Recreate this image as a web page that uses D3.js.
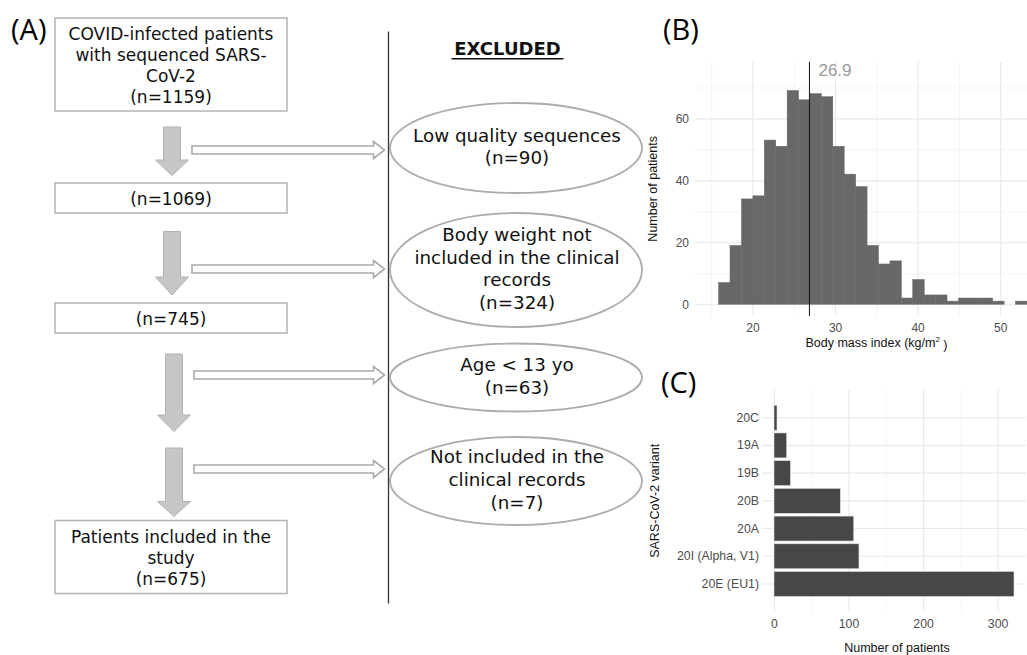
<!DOCTYPE html>
<html>
<head>
<meta charset="utf-8">
<script src="https://cdn.jsdelivr.net/npm/d3@7"></script>
<style>
  body { margin: 0; background: #fff; }
  svg { display: block; }
</style>
</head>
<body>
<div id="chart"></div>
<script>
// ---- data ----
var flowBoxes = [
  ["COVID-infected patients", "with sequenced SARS-", "CoV-2", "(n=1159)"],
  ["(n=1069)"],
  ["(n=745)"],
  ["Patients included in the", "study", "(n=675)"]
];
var excludedTitle = "EXCLUDED";
var excludedSteps = [
  ["Low quality sequences", "(n=90)"],
  ["Body weight not", "included in the clinical", "records", "(n=324)"],
  ["Age < 13 yo", "(n=63)"],
  ["Not included in the", "clinical records", "(n=7)"]
];

// histogram of BMI (left edge of each bin, and patient count)
var bmiBreaks = [15.90, 17.28, 18.67, 20.05, 21.43, 22.82, 24.20, 25.58, 26.96, 28.35,
                 29.73, 31.11, 32.50, 33.88, 35.26, 36.65, 38.03, 39.41, 40.80, 42.18,
                 43.56, 44.94, 46.33, 47.71, 49.09, 50.48, 51.86, 53.24];
var bmiCounts = [7, 19, 34, 35, 53, 51, 69, 66, 68, 67,
                 51, 42, 38, 19, 13, 14, 2, 8, 3, 3,
                 1, 2, 2, 2, 1, 0, 1];
var bmiMedian = 26.9;
var bmiTicks = [20, 30, 40, 50];
var countTicks = [0, 20, 40, 60];

// variants bar chart
var variants = ["20C", "19A", "19B", "20B", "20A", "20I (Alpha, V1)", "20E (EU1)"];
var variantCounts = [4, 17, 22, 89, 107, 114, 322];
var variantTicks = [0, 100, 200, 300];

var width = 1027, height = 655;
var flowFont = "'DejaVu Sans', Verdana, sans-serif";
var ggFont = "'Liberation Sans', Arial, sans-serif";
var panelFont = "'Open Sans', 'Liberation Sans', sans-serif";

var svg = d3.select("#chart").append("svg")
  .attr("width", width)
  .attr("height", height);

////////////////////////////////////////////////////////////////////////////////
/*                        (A) FLOWCHART                                       */
////////////////////////////////////////////////////////////////////////////////
var flow = svg.append("g");

var boxX0 = 55, boxX1 = 287;
var boxY = [[18, 111], [183, 213], [303, 333], [520.5, 593.5]];
var lineGap = 20.7;

flowBoxes.forEach(function (lines, i) {
  var y0 = boxY[i][0], y1 = boxY[i][1];
  flow.append("rect")
    .attr("x", boxX0).attr("y", y0)
    .attr("width", boxX1 - boxX0).attr("height", y1 - y0)
    .attr("fill", "#fff").attr("stroke", "#b4b4b4").attr("stroke-width", 1.5);
  var mid = (y0 + y1) / 2 + 1;
  var first = mid - (lines.length - 1) * lineGap / 2;
  lines.forEach(function (t, j) {
    flow.append("text")
      .attr("x", (boxX0 + boxX1) / 2)
      .attr("y", first + j * lineGap)
      .attr("text-anchor", "middle")
      .attr("dominant-baseline", "central")
      .style("font-family", flowFont)
      .style("font-size", "17px")
      .attr("fill", "#111")
      .text(t);
  });
});

// thick grey arrows going down
var downArrows = [
  { x: 172, top: 127, head: 160, tip: 175.5 },
  { x: 172, top: 231.5, head: 277, tip: 295 },
  { x: 174, top: 354, head: 415, tip: 431.5 },
  { x: 174, top: 448, head: 501.5, tip: 516.5 }
];
downArrows.forEach(function (a) {
  var sw = 8.5, hw = 16.5;
  var pts = [[a.x - sw, a.top], [a.x + sw, a.top], [a.x + sw, a.head], [a.x + hw, a.head],
             [a.x, a.tip], [a.x - hw, a.head], [a.x - sw, a.head]];
  flow.append("polygon")
    .attr("points", pts.map(function (p) { return p.join(","); }).join(" "))
    .attr("fill", "#c6c6c6").attr("stroke", "#b2b2b2").attr("stroke-width", 1);
});

// hollow arrows to the excluded side
var sideArrowY = [150, 269, 375, 469];
sideArrowY.forEach(function (y, i) {
  var x0 = i < 2 ? 192 : 194, xh = 373.5, x1 = 384.5, sh = 4, hh = 8.5;
  var pts = [[x0, y - sh], [xh, y - sh], [xh, y - hh], [x1, y], [xh, y + hh], [xh, y + sh], [x0, y + sh]];
  flow.append("polygon")
    .attr("points", pts.map(function (p) { return p.join(","); }).join(" "))
    .attr("fill", "#fff").attr("stroke", "#ababab").attr("stroke-width", 1.6);
});

// divider
flow.append("line")
  .attr("x1", 388.5).attr("x2", 388.5)
  .attr("y1", 31.5).attr("y2", 603.5)
  .attr("stroke", "#333").attr("stroke-width", 1.3);

flow.append("text")
  .attr("x", 507.5).attr("y", 55)
  .attr("text-anchor", "middle")
  .style("font-family", flowFont)
  .style("font-size", "18px")
  .style("font-weight", "bold")
  .attr("fill", "#111")
  .text(excludedTitle);
flow.append("line")
  .attr("x1", 451.5).attr("x2", 563.5)
  .attr("y1", 58.7).attr("y2", 58.7)
  .attr("stroke", "#111").attr("stroke-width", 1.5);

var ellCx = 516, ellRx = 126;
var ellCy = [148, 270, 377.5, 481];
var ellRy = [45, 57, 34, 44];
var ellGap = 22.8;
excludedSteps.forEach(function (lines, i) {
  flow.append("ellipse")
    .attr("cx", ellCx).attr("cy", ellCy[i])
    .attr("rx", ellRx).attr("ry", ellRy[i])
    .attr("fill", "#fff").attr("stroke", "#acacac").attr("stroke-width", 1.8);
  var first = ellCy[i] - 1.5 - (lines.length - 1) * ellGap / 2;
  lines.forEach(function (t, j) {
    flow.append("text")
      .attr("x", ellCx + 1)
      .attr("y", first + j * ellGap)
      .attr("text-anchor", "middle")
      .attr("dominant-baseline", "central")
      .style("font-family", flowFont)
      .style("font-size", "18.3px")
      .attr("fill", "#111")
      .text(t);
  });
});

// panel letters
function panelLabel(txt, x, y) {
  svg.append("text")
    .attr("x", x).attr("y", y)
    .style("font-family", panelFont)
    .style("font-size", "29px")
    .attr("fill", "#000")
    .text(txt);
}
panelLabel("(A)", 11, 40);
panelLabel("(B)", 663, 40);
panelLabel("(C)", 661, 393);

////////////////////////////////////////////////////////////////////////////////
/*                        (B) BMI HISTOGRAM                                   */
////////////////////////////////////////////////////////////////////////////////
var histLeft = 695, histRight = 1058, histTop = 61.7, histBottom = 316;
var hx = d3.scaleLinear().domain([13.04, 57.0]).range([histLeft, histRight]);
var hy = d3.scaleLinear().domain([-3.8, 78.3]).range([histBottom, histTop]);
var hist = svg.append("g");

// grid (minor + major)
var minorX = bmiTicks.map(function (t) { return t - 5; }).concat([55]);
var minorY = countTicks.map(function (t) { return t + 10; });
hist.append("g")
  .attr("transform", "translate(0," + histBottom + ")")
  .call(d3.axisBottom(hx).tickValues(minorX).tickSize(-(histBottom - histTop)).tickFormat(""))
  .call(function (g) { g.select(".domain").remove(); g.selectAll("line").attr("stroke", "#f1f1f1").attr("stroke-width", 0.8); });
hist.append("g")
  .attr("transform", "translate(" + histLeft + ",0)")
  .call(d3.axisLeft(hy).tickValues(minorY).tickSize(-(histRight - histLeft)).tickFormat(""))
  .call(function (g) { g.select(".domain").remove(); g.selectAll("line").attr("stroke", "#f1f1f1").attr("stroke-width", 0.8); });

var hxAxis = hist.append("g")
  .attr("transform", "translate(0," + histBottom + ")")
  .call(d3.axisBottom(hx).tickValues(bmiTicks).tickSize(-(histBottom - histTop)).tickPadding(6));
var hyAxis = hist.append("g")
  .attr("transform", "translate(" + histLeft + ",0)")
  .call(d3.axisLeft(hy).tickValues(countTicks).tickSize(-(histRight - histLeft)).tickPadding(6));
[hxAxis, hyAxis].forEach(function (g) {
  g.select(".domain").remove();
  g.selectAll("line").attr("stroke", "#e8e8e8").attr("stroke-width", 1.1);
  g.selectAll("text").attr("fill", "#4d4d4d").style("font-family", ggFont).style("font-size", "12px");
});
hxAxis.selectAll("text").attr("dy", "0.85em");

hist.selectAll("rect.bin")
  .data(bmiCounts)
  .enter()
  .append("rect")
  .attr("class", "bin")
  .attr("x", function (d, i) { return hx(bmiBreaks[i]); })
  .attr("width", function (d, i) { return hx(bmiBreaks[i + 1]) - hx(bmiBreaks[i]); })
  .attr("y", function (d) { return hy(d); })
  .attr("height", function (d) { return hy(0) - hy(d); })
  .attr("fill", "#686868")
  .attr("stroke", "#686868").attr("stroke-width", 0.5);

hist.append("line")
  .attr("x1", hx(bmiMedian)).attr("x2", hx(bmiMedian))
  .attr("y1", histTop).attr("y2", histBottom)
  .attr("stroke", "#111").attr("stroke-width", 1);
hist.append("text")
  .attr("x", hx(bmiMedian) + 9).attr("y", hy(75.5))
  .attr("dominant-baseline", "central")
  .style("font-family", ggFont).style("font-size", "17px")
  .attr("fill", "#9a9a9a")
  .text(bmiMedian.toFixed(1));

hist.append("text")
  .attr("transform", "translate(653," + ((histTop + histBottom) / 2) + ") rotate(-90)")
  .attr("text-anchor", "middle").attr("dominant-baseline", "central")
  .style("font-family", ggFont).style("font-size", "12.5px")
  .attr("fill", "#111")
  .text("Number of patients");
var bmiTitle = hist.append("text")
  .attr("x", (histLeft + histRight) / 2).attr("y", 343)
  .attr("text-anchor", "middle").attr("dominant-baseline", "central")
  .style("font-family", ggFont).style("font-size", "12.5px")
  .attr("fill", "#111");
bmiTitle.append("tspan").text("Body mass index (kg/m");
bmiTitle.append("tspan").attr("dy", "-0.45em").style("font-size", "8px").text("2");
bmiTitle.append("tspan").attr("dy", "0.45em").text(" )");

////////////////////////////////////////////////////////////////////////////////
/*                        (C) VARIANT BARS                                    */
////////////////////////////////////////////////////////////////////////////////
var barLeft = 762, barRight = 1026, barTop = 390, barBottom = 611.7;
var bx = d3.scaleLinear().domain([-16.1, 338.1]).range([barLeft, barRight]);
var by = d3.scaleBand().domain(variants).range([barTop, barBottom]).paddingInner(0.1).paddingOuter(0.55);
var bars = svg.append("g");

bars.append("g")
  .attr("transform", "translate(0," + barBottom + ")")
  .call(d3.axisBottom(bx).tickValues(variantTicks.map(function (t) { return t + 50; }).slice(0, 3)).tickSize(-(barBottom - barTop)).tickFormat(""))
  .call(function (g) { g.select(".domain").remove(); g.selectAll("line").attr("stroke", "#f1f1f1").attr("stroke-width", 0.8); });

var bxAxis = bars.append("g")
  .attr("transform", "translate(0," + barBottom + ")")
  .call(d3.axisBottom(bx).tickValues(variantTicks).tickSize(-(barBottom - barTop)).tickPadding(6));
var byAxis = bars.append("g")
  .attr("transform", "translate(" + barLeft + ",0)")
  .call(d3.axisLeft(by).tickSize(-(barRight - barLeft)).tickPadding(3));
[bxAxis, byAxis].forEach(function (g) {
  g.select(".domain").remove();
  g.selectAll("line").attr("stroke", "#e8e8e8").attr("stroke-width", 1.1);
  g.selectAll("text").attr("fill", "#4d4d4d").style("font-family", ggFont).style("font-size", "12.3px");
});
bxAxis.selectAll("text").attr("dy", "0.85em");

bars.selectAll("rect.bar")
  .data(variantCounts)
  .enter()
  .append("rect")
  .attr("class", "bar")
  .attr("x", bx(0))
  .attr("y", function (d, i) { return by(variants[i]); })
  .attr("width", function (d) { return bx(d) - bx(0); })
  .attr("height", by.bandwidth())
  .attr("fill", "#474747")
  .attr("stroke", "#dcdcdc").attr("stroke-width", 0.6);

bars.append("text")
  .attr("transform", "translate(655," + ((barTop + barBottom) / 2) + ") rotate(-90)")
  .attr("text-anchor", "middle").attr("dominant-baseline", "central")
  .style("font-family", ggFont).style("font-size", "12.5px")
  .attr("fill", "#111")
  .text("SARS-CoV-2 variant");
bars.append("text")
  .attr("x", 897).attr("y", 648)
  .attr("text-anchor", "middle").attr("dominant-baseline", "central")
  .style("font-family", ggFont).style("font-size", "12.5px")
  .attr("fill", "#111")
  .text("Number of patients");
</script>
</body>
</html>
